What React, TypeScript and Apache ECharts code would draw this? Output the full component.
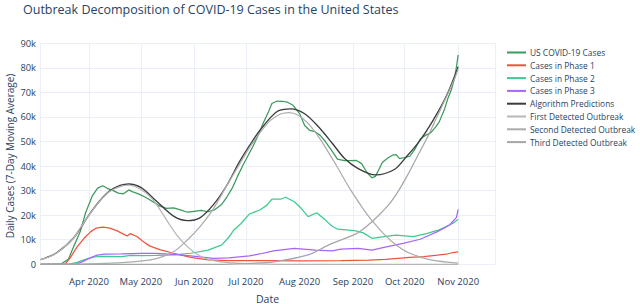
import React, { useEffect, useRef } from "react";
import * as echarts from "echarts";

const titleText = "Outbreak Decomposition of COVID-19 Cases in the United States";
const yAxisTitle = "Daily Cases (7-Day Moving Average)";
const xAxisTitle = "Date";
const monthNames = ["Jan", "Feb", "Mar", "Apr", "May", "Jun", "Jul", "Aug", "Sep", "Oct", "Nov", "Dec"];

const usCases: [string, number][] = [
  ["2020-03-04", 0], ["2020-03-10", 0], ["2020-03-16", 200], ["2020-03-20", 2000], ["2020-03-23", 7000],
  ["2020-03-27", 13500], ["2020-03-30", 21000], ["2020-04-03", 28000], ["2020-04-06", 31000], ["2020-04-09", 32000],
  ["2020-04-12", 30800], ["2020-04-15", 30000], ["2020-04-18", 29000], ["2020-04-21", 28700], ["2020-04-24", 30300],
  ["2020-04-26", 29600], ["2020-04-30", 28600], ["2020-05-04", 27200], ["2020-05-08", 25500], ["2020-05-12", 23700],
  ["2020-05-16", 22800], ["2020-05-20", 23000], ["2020-05-24", 22200], ["2020-05-28", 21200], ["2020-06-01", 21600],
  ["2020-06-05", 22000], ["2020-06-09", 21400], ["2020-06-13", 22300], ["2020-06-17", 24500], ["2020-06-20", 27500],
  ["2020-06-23", 31000], ["2020-06-26", 35700], ["2020-06-29", 40000], ["2020-07-02", 44000], ["2020-07-05", 48000],
  ["2020-07-08", 52500], ["2020-07-11", 57500], ["2020-07-14", 62000], ["2020-07-16", 65500], ["2020-07-19", 66500],
  ["2020-07-22", 66400], ["2020-07-25", 66000], ["2020-07-28", 64900], ["2020-08-01", 61500], ["2020-08-04", 56500],
  ["2020-08-07", 54500], ["2020-08-10", 54000], ["2020-08-13", 52500], ["2020-08-16", 50000], ["2020-08-20", 46000],
  ["2020-08-23", 42800], ["2020-08-27", 42200], ["2020-08-31", 42200], ["2020-09-03", 42300], ["2020-09-06", 41000],
  ["2020-09-09", 37500], ["2020-09-12", 35200], ["2020-09-14", 35800], ["2020-09-16", 38500], ["2020-09-18", 41500],
  ["2020-09-21", 43200], ["2020-09-24", 44500], ["2020-09-26", 44700], ["2020-09-28", 43000], ["2020-10-01", 43500],
  ["2020-10-04", 44000], ["2020-10-07", 47000], ["2020-10-10", 51000], ["2020-10-13", 52500], ["2020-10-16", 53500],
  ["2020-10-19", 56000], ["2020-10-21", 58000], ["2020-10-24", 63000], ["2020-10-26", 67500], ["2020-10-28", 71000],
  ["2020-10-30", 76000], ["2020-10-31", 80500], ["2020-11-01", 85300],
];

const phase1: [string, number][] = [
  ["2020-03-04", 0], ["2020-03-18", 0], ["2020-03-21", 2500], ["2020-03-25", 7000], ["2020-03-29", 10500],
  ["2020-04-02", 13300], ["2020-04-05", 14700], ["2020-04-09", 15100], ["2020-04-13", 14700], ["2020-04-17", 13700],
  ["2020-04-21", 12300], ["2020-04-23", 11500], ["2020-04-25", 12500], ["2020-04-29", 11200], ["2020-05-02", 9500],
  ["2020-05-06", 7500], ["2020-05-12", 6000], ["2020-05-20", 4500], ["2020-05-30", 2800], ["2020-06-09", 1800],
  ["2020-06-20", 1500], ["2020-07-10", 1500], ["2020-08-01", 1400], ["2020-08-25", 1500], ["2020-09-10", 1700],
  ["2020-09-20", 2000], ["2020-10-04", 2800], ["2020-10-12", 3100], ["2020-10-20", 3700], ["2020-10-25", 4100],
  ["2020-10-29", 4800], ["2020-11-01", 5100],
];

const phase2: [string, number][] = [
  ["2020-03-04", 0], ["2020-03-20", 0], ["2020-03-25", 800], ["2020-03-30", 2000], ["2020-04-04", 3000],
  ["2020-04-10", 3200], ["2020-04-20", 3100], ["2020-04-25", 3600], ["2020-05-01", 3500], ["2020-05-10", 3600],
  ["2020-05-20", 3800], ["2020-05-30", 4500], ["2020-06-09", 5800], ["2020-06-17", 7900], ["2020-06-21", 11000],
  ["2020-06-24", 14000], ["2020-06-28", 16500], ["2020-07-03", 20500], ["2020-07-09", 22100], ["2020-07-13", 24000],
  ["2020-07-16", 26500], ["2020-07-21", 26500], ["2020-07-24", 27300], ["2020-07-29", 25500], ["2020-08-02", 22800],
  ["2020-08-06", 19400], ["2020-08-11", 21000], ["2020-08-16", 18000], ["2020-08-20", 15500], ["2020-08-23", 14300],
  ["2020-09-02", 13700], ["2020-09-07", 12800], ["2020-09-12", 10600], ["2020-09-19", 11300], ["2020-09-26", 11900],
  ["2020-10-06", 11300], ["2020-10-14", 12600], ["2020-10-21", 14000], ["2020-10-29", 16700], ["2020-11-01", 18300],
];

const phase3: [string, number][] = [
  ["2020-03-04", 0], ["2020-03-24", 0], ["2020-03-28", 1000], ["2020-04-01", 2400], ["2020-04-05", 3600],
  ["2020-04-10", 4100], ["2020-04-20", 4200], ["2020-05-01", 4400], ["2020-05-10", 4400], ["2020-05-24", 3800],
  ["2020-06-03", 3100], ["2020-06-12", 2400], ["2020-06-21", 2600], ["2020-07-03", 3400], ["2020-07-09", 4200],
  ["2020-07-17", 5500], ["2020-07-29", 6500], ["2020-08-10", 5800], ["2020-08-20", 5500], ["2020-08-25", 6200],
  ["2020-09-04", 6500], ["2020-09-12", 5800], ["2020-09-19", 6900], ["2020-09-30", 8500], ["2020-10-10", 10200],
  ["2020-10-20", 13300], ["2020-10-27", 16000], ["2020-10-31", 19100], ["2020-11-01", 22400],
];

const predictions: [string, number][] = [
  ["2020-03-04", 1900], ["2020-03-13", 4600], ["2020-03-23", 10700], ["2020-04-01", 20100], ["2020-04-07", 25700],
  ["2020-04-13", 29900], ["2020-04-19", 32100], ["2020-04-24", 32700], ["2020-05-01", 31300], ["2020-05-10", 25800],
  ["2020-05-20", 19600], ["2020-05-28", 17800], ["2020-06-04", 18800], ["2020-06-12", 24200], ["2020-06-20", 32300],
  ["2020-06-27", 41500], ["2020-07-03", 48300], ["2020-07-09", 54500], ["2020-07-19", 62200], ["2020-07-27", 63300],
  ["2020-08-04", 61300], ["2020-08-12", 56000], ["2020-08-20", 49300], ["2020-08-27", 43200], ["2020-09-04", 39000],
  ["2020-09-14", 36400], ["2020-09-25", 38600], ["2020-10-02", 43800], ["2020-10-10", 50600], ["2020-10-17", 58100],
  ["2020-10-25", 68300], ["2020-11-01", 80500],
];

const firstOutbreak: [string, number][] = [
  ["2020-03-04", 1800], ["2020-03-13", 4500], ["2020-03-23", 10600], ["2020-03-26", 13800], ["2020-04-01", 20000],
  ["2020-04-07", 25500], ["2020-04-13", 29600], ["2020-04-19", 31600], ["2020-04-24", 32200], ["2020-05-01", 30500],
  ["2020-05-06", 27800], ["2020-05-10", 24500], ["2020-05-16", 18000], ["2020-05-22", 11800], ["2020-05-28", 7200],
  ["2020-06-03", 3900], ["2020-06-09", 2000], ["2020-06-18", 900], ["2020-07-01", 300], ["2020-07-20", 0],
  ["2020-11-01", 0],
];

const secondOutbreak: [string, number][] = [
  ["2020-03-04", 0], ["2020-04-01", 200], ["2020-04-20", 700], ["2020-05-01", 1300], ["2020-05-10", 2300],
  ["2020-05-20", 5100], ["2020-05-28", 9900], ["2020-06-04", 15000], ["2020-06-12", 22500], ["2020-06-19", 31000],
  ["2020-06-27", 40500], ["2020-07-03", 47500], ["2020-07-09", 53500], ["2020-07-15", 58500], ["2020-07-21", 61200],
  ["2020-07-26", 61800], ["2020-07-31", 60800], ["2020-08-06", 57400], ["2020-08-12", 52000], ["2020-08-17", 46500],
  ["2020-08-23", 39500], ["2020-08-30", 31000], ["2020-09-07", 22500], ["2020-09-11", 18700], ["2020-09-19", 12300],
  ["2020-09-26", 7900], ["2020-10-04", 4500], ["2020-10-16", 1800], ["2020-11-01", 500],
];

const thirdOutbreak: [string, number][] = [
  ["2020-03-04", 0], ["2020-06-15", 0], ["2020-07-01", 300], ["2020-07-17", 1000], ["2020-08-06", 3800],
  ["2020-08-18", 7900], ["2020-09-03", 12500], ["2020-09-09", 15500], ["2020-09-16", 20000], ["2020-09-22", 24500],
  ["2020-09-27", 29500], ["2020-10-02", 35500], ["2020-10-08", 43500], ["2020-10-14", 51500], ["2020-10-19", 59000],
  ["2020-10-25", 68000], ["2020-10-30", 75800], ["2020-11-01", 79500],
];

const seriesNames = [
  "US COVID-19 Cases", "Cases in Phase 1", "Cases in Phase 2", "Cases in Phase 3",
  "Algorithm Predictions", "First Detected Outbreak", "Second Detected Outbreak", "Third Detected Outbreak",
];
const seriesColors = ["#3b9a5c", "#ef553b", "#3dcb8e", "#a865fa", "#3c3c3c", "#b6b6b6", "#acacac", "#a6a6a6"];

const FONT = "'Open Sans', 'Noto Sans', sans-serif";
const TEXT = "#2a3f5f";

export default function App() {
  const ref = useRef<HTMLDivElement>(null);
  useEffect(() => {
    if (!ref.current) return;
    const chart = echarts.init(ref.current, null, { renderer: "svg" });
    const datasets = [usCases, phase1, phase2, phase3, predictions, firstOutbreak, secondOutbreak, thirdOutbreak];
    const series = datasets.map((d, i) => ({
      name: seriesNames[i],
      type: "line",
      data: d,
      showSymbol: false,
      symbol: "none",
      smooth: i >= 4 ? 0.3 : false,
      z: 2 + i,
      lineStyle: { width: i === 4 ? 1.35 : 1.25, color: seriesColors[i] },
      itemStyle: { color: seriesColors[i] },
    }));
    chart.setOption({
      animation: false,
      backgroundColor: "#ffffff",
      textStyle: { fontFamily: FONT },
      title: {
        text: titleText,
        left: 18,
        top: -2,
        textStyle: { fontSize: 12.5, fontWeight: "normal", color: TEXT, fontFamily: FONT },
      },
      legend: {
        orient: "vertical",
        left: 507,
        top: 47,
        padding: 0,
        icon: "rect",
        itemWidth: 19,
        itemHeight: 2,
        itemGap: 1.8,
        textStyle: { fontSize: 8.4, color: TEXT, fontFamily: FONT, lineHeight: 11, padding: [0, 0, 0, -1] },
        data: seriesNames,
      },
      grid: { left: 40, right: 145, top: 43.3, bottom: 39.7, containLabel: false },
      xAxis: {
        type: "time",
        min: new Date(2020, 2, 3, 14).getTime(),
        max: new Date(2020, 10, 22, 8).getTime(),
        minInterval: 28 * 864e5,
        maxInterval: 31 * 864e5,
        axisLine: { show: false },
        axisTick: { show: false },
        splitLine: { show: true, lineStyle: { color: "#ebf0f8", width: 1 } },
        axisLabel: {
          color: TEXT,
          fontSize: 9.5,
          fontFamily: FONT,
          margin: 12,
          showMinLabel: false,
          showMaxLabel: false,
          hideOverlap: false,
          formatter: (v: number) => {
            const d = new Date(v);
            return `${monthNames[d.getMonth()]} ${d.getFullYear()}`;
          },
        },
      },
      yAxis: {
        type: "value",
        min: 0,
        max: 90000,
        interval: 10000,
        axisLine: { show: false },
        axisTick: { show: false },
        splitLine: { show: true, lineStyle: { color: "#ebf0f8", width: 1 } },
        axisLabel: {
          color: TEXT,
          fontSize: 9.3,
          fontFamily: FONT,
          margin: 4,
          formatter: (v: number) => (v === 0 ? "0" : `${v / 1000}k`),
        },
      },
      graphic: [
        {
          type: "text",
          x: 10,
          y: 156,
          rotation: Math.PI / 2,
          style: {
            text: yAxisTitle,
            fontSize: 10,
            fontFamily: FONT,
            fill: TEXT,
            align: "center",
            verticalAlign: "middle",
          },
        },
        {
          type: "text",
          x: 267.5,
          y: 298.5,
          style: {
            text: xAxisTitle,
            fontSize: 10.5,
            fontFamily: FONT,
            fill: TEXT,
            align: "center",
            verticalAlign: "middle",
          },
        },
      ],
      series,
    });
    return () => chart.dispose();
  }, []);
  return <div ref={ref} style={{ position: "fixed", left: 0, top: 0, width: 640, height: 304 }} />;
}
